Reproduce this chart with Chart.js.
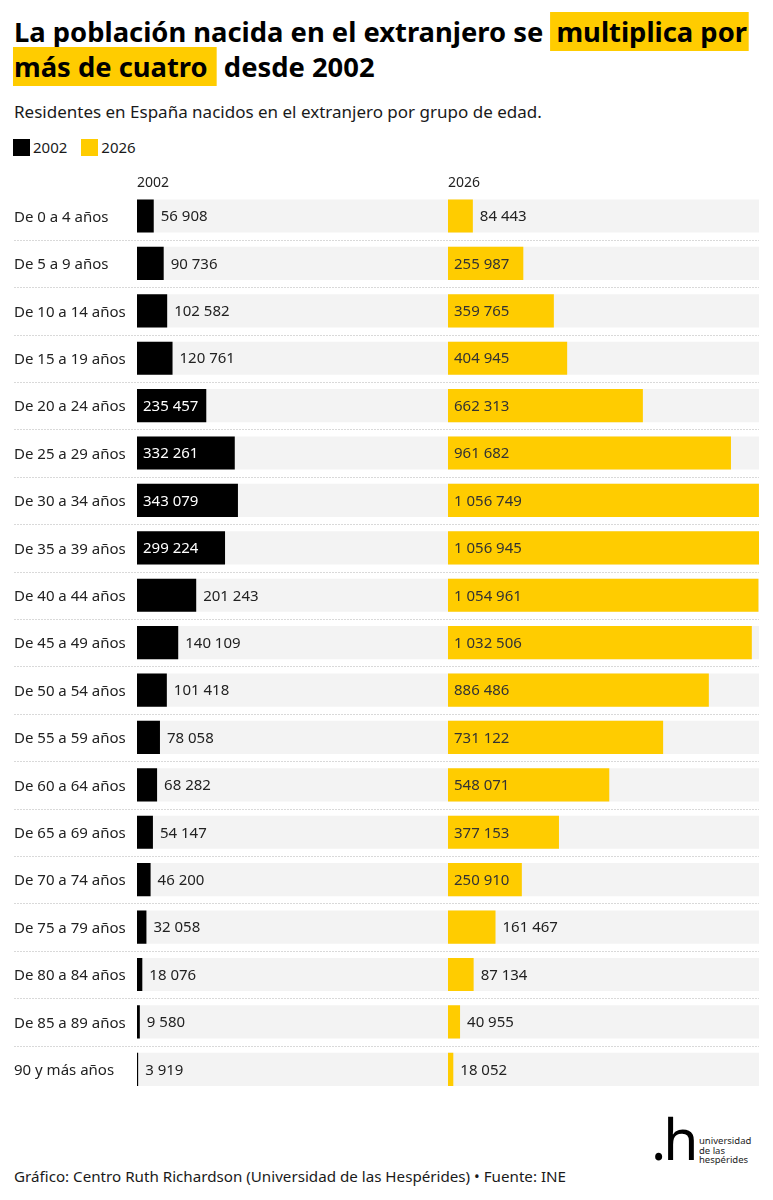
<!DOCTYPE html>
<html><head><meta charset="utf-8">
<script src="https://cdn.jsdelivr.net/npm/chart.js@4.4.1/dist/chart.umd.min.js"></script>
<style>
html,body{margin:0;padding:0;background:#fff}
body{width:773px;height:1200px;position:relative;font-family:'Noto Sans',sans-serif;color:#1a1a1a;overflow:hidden}
.abs{position:absolute;white-space:nowrap}
#title{left:14px;top:14px;font-size:27px;font-weight:700;line-height:35px;margin:0;transform-origin:0 0;color:#000}
.hl{background:#ffcc00;padding:1px 2px 1px 6px}
.hl2{background:#ffcc00;padding:1px 9px 1px 1px;margin-left:-1px}
#subtitle{left:14px;top:102px;font-size:17px;line-height:20px;color:#1a1a1a}
#legend{left:13px;top:138px;font-size:15px;line-height:18px;color:#1a1a1a;display:flex;align-items:center}
.sw{display:inline-block;width:17px;height:17px;margin-right:3px}
.li{display:flex;align-items:center;margin-right:14px}
#chart{position:absolute;left:0;top:170px}
#footer{left:14px;top:1165px;font-size:15px;line-height:22px;color:#1a1a1a;transform-origin:0 0}
#logoH{left:651px;top:1098px;font-size:57px;line-height:80px;color:#000;letter-spacing:-3px}
#logoT{left:699px;top:1136px;font-size:9.5px;line-height:9.5px;color:#222}
</style></head>
<body>
<h1 id="title" class="abs"><span id="l1">La población nacida en el extranjero se <span class="hl">multiplica por</span></span><br><span class="hl2">más de cuatro</span> desde 2002</h1>
<div id="subtitle" class="abs">Residentes en España nacidos en el extranjero por grupo de edad.</div>
<div id="legend" class="abs"></div>
<canvas id="chart" width="773" height="923"></canvas>
<div id="footer" class="abs">Gráfico: Centro Ruth Richardson (Universidad de las Hespérides) • Fuente: INE</div>
<div id="logoH" class="abs">.h</div>
<div id="logoT" class="abs">universidad<br>de las<br>hespérides</div>
<script>
const categories = ['De 0 a 4 años','De 5 a 9 años','De 10 a 14 años','De 15 a 19 años','De 20 a 24 años','De 25 a 29 años','De 30 a 34 años','De 35 a 39 años','De 40 a 44 años','De 45 a 49 años','De 50 a 54 años','De 55 a 59 años','De 60 a 64 años','De 65 a 69 años','De 70 a 74 años','De 75 a 79 años','De 80 a 84 años','De 85 a 89 años','90 y más años'];
const values2002 = [56908,90736,102582,120761,235457,332261,343079,299224,201243,140109,101418,78058,68282,54147,46200,32058,18076,9580,3919];
const values2026 = [84443,255987,359765,404945,662313,961682,1056749,1056945,1054961,1032506,886486,731122,548071,377153,250910,161467,87134,40955,18052];
const seriesNames = ['2002','2026'];
const seriesColors = ['#000000','#ffcc00'];
const insideTextColors = ['#ffffff','#333333'];

// legend
const lg = document.getElementById('legend');
seriesNames.forEach((n,i)=>{
  const d=document.createElement('span'); d.className='li';
  d.innerHTML='<span class="sw" style="background:'+seriesColors[i]+'"></span>'+n;
  lg.appendChild(d);
});

// fit title and footer widths
const l1 = document.getElementById('l1');
const t = document.getElementById('title');
const w1 = l1.getBoundingClientRect().width;
t.style.transform = 'scaleX(' + (735 / w1) + ')';
const f = document.getElementById('footer');
const fw = f.getBoundingClientRect().width;
f.style.transform = 'scaleX(' + (552 / fw) + ')';

Chart.defaults.font.family = "'Noto Sans', sans-serif";
Chart.defaults.color = '#222';

const fmt = v => String(v).replace(/\B(?=(\d{3})+(?!\d))/g, ' ');
const maxVal = Math.max(...values2002, ...values2026);
const bgData = categories.map(() => maxVal);

const separatorPlugin = {
  id: 'sep',
  beforeDatasetsDraw(chart) {
    const ctx = chart.ctx, ys = chart.scales.y;
    ctx.save();
    ctx.strokeStyle = '#d9d9d9';
    ctx.lineWidth = 1;
    ctx.setLineDash([2, 1]);
    for (let i = 1; i < categories.length; i++) {
      const y = Math.round((ys.getPixelForValue(i - 1) + ys.getPixelForValue(i)) / 2) + 0.5;
      ctx.beginPath();
      ctx.moveTo(14, y);
      ctx.lineTo(chart.chartArea.right, y);
      ctx.stroke();
    }
    ctx.restore();
  }
};

const labelPlugin = {
  id: 'vlabels',
  afterDatasetsDraw(chart) {
    const ctx = chart.ctx;
    ctx.save();
    ctx.font = "15px 'Noto Sans', sans-serif";
    ctx.textBaseline = 'middle';
    ctx.textAlign = 'left';
    [0, 1].forEach(di => {
      const meta = chart.getDatasetMeta(di);
      const vals = chart.data.datasets[di].data;
      meta.data.forEach((bar, j) => {
        const p = bar.getProps(['x', 'y', 'base'], true);
        const txt = fmt(vals[j]);
        const tw = ctx.measureText(txt).width;
        const w = p.x - p.base;
        if (tw + 12 <= w) {
          ctx.fillStyle = insideTextColors[di];
          ctx.fillText(txt, p.base + 6, p.y + 1);
        } else {
          ctx.fillStyle = '#222';
          ctx.fillText(txt, p.x + 7, p.y + 1);
        }
      });
    });
    ctx.restore();
  }
};

const xAxis = (title) => ({
  type: 'linear', position: 'top', stack: 'panels', stackWeight: 1,
  min: 0, max: maxVal,
  grid: { display: false, drawTicks: false },
  border: { display: false },
  ticks: { display: false },
  title: { display: true, text: title, align: 'start', color: '#222', font: { size: 14 }, padding: { top: 5, bottom: 0 } },
  afterFit(s) { s.height = 22.3; s.paddingLeft = 0; s.paddingRight = 0; }
});

// top-positioned stacked axes are laid out in reverse definition order
const scales = {};
scales.x2 = xAxis(seriesNames[1]);
scales.x1 = xAxis(seriesNames[0]);
scales.y = {
  type: 'category',
  grid: { display: false },
  border: { display: false },
  ticks: { crossAlign: 'far', font: { size: 15 }, color: '#222', padding: 0, labelOffset: 1.5 },
  afterFit(s) { s.width = 123; s.paddingTop = 0; s.paddingBottom = 0; }
};

new Chart(document.getElementById('chart'), {
  type: 'bar',
  data: {
    labels: categories,
    datasets: [
      { label: seriesNames[0], data: values2002, xAxisID: 'x1', backgroundColor: seriesColors[0], order: 1 },
      { label: seriesNames[1], data: values2026, xAxisID: 'x2', backgroundColor: seriesColors[1], order: 1 },
      { label: 'fondo1', data: bgData, xAxisID: 'x1', backgroundColor: '#f3f3f3', order: 2 },
      { label: 'fondo2', data: bgData, xAxisID: 'x2', backgroundColor: '#f3f3f3', order: 2 }
    ]
  },
  options: {
    indexAxis: 'y',
    responsive: false,
    animation: false,
    events: [],
    layout: { padding: { left: 14, right: 14, top: 0, bottom: 0 } },
    datasets: { bar: { grouped: false, categoryPercentage: 1, barPercentage: 0.7, borderWidth: 0 } },
    plugins: { legend: { display: false }, tooltip: { enabled: false } },
    scales: scales
  },
  plugins: [separatorPlugin, labelPlugin]
});
</script>
</body></html>
